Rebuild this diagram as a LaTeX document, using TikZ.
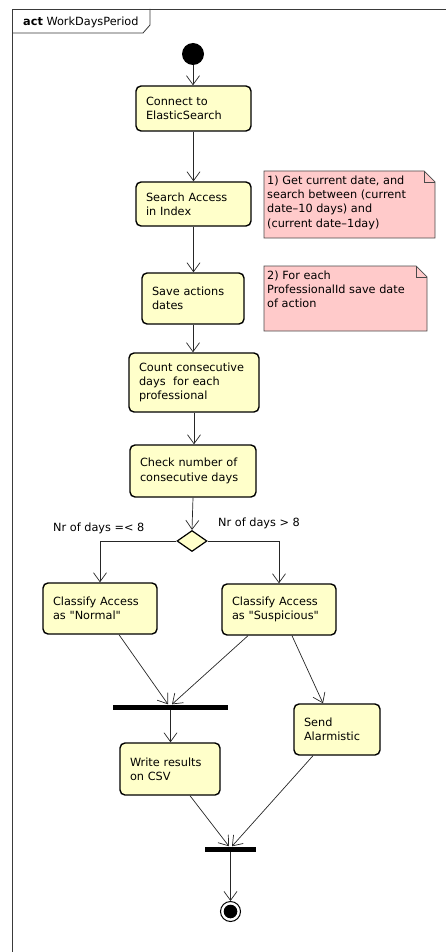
\documentclass[tikz,border=0pt]{standalone}
\usepackage{fontspec}
\setmainfont{DejaVu Sans}
\usetikzlibrary{arrows.meta,shapes.geometric}
\definecolor{actfill}{HTML}{FFFFCA}
\definecolor{notefill}{HTML}{FFCACA}
\definecolor{noteline}{HTML}{4A4A4A}
\definecolor{framecol}{HTML}{3A3A3A}

\begin{document}
\begin{tikzpicture}[x=1pt,y=-1pt,
  txt/.style={font=\fontsize{11.3}{14.3}\selectfont},
  act/.style={txt, draw=black, line width=1.4pt, fill=actfill,
    rounded corners=5pt, align=left, inner xsep=10pt, inner ysep=0pt},
  flow/.style={draw=black!85, line width=0.7pt,
    -{Straight Barb[length=9pt,width=13pt,line width=0.7pt]}},
  syncbar/.style={fill=black, inner sep=0pt, minimum height=5pt},
  notebox/.style={fill=notefill, draw=noteline, line width=0.7pt},
  notetext/.style={txt, anchor=north west, align=left, inner sep=0pt},
  guard/.style={txt, anchor=west, inner sep=0pt}
]
\useasboundingbox (0,0) rectangle (446,952);

% diagram frame with its name tab
\draw[framecol, line width=0.8pt] (12,960) -- (12,9) -- (450,9);
\draw[framecol, line width=0.8pt] (12,33) -- (143,33) -- (150,25) -- (150,9);
\node[txt, anchor=west, inner sep=0pt] (title) at (23,22) {\textbf{act} WorkDaysPeriod};

% initial node
\node[circle, fill=black, minimum size=22pt, inner sep=0pt] (start) at (193,54) {};

% actions
\node[act, text width=95pt, minimum height=45pt] (conn) at (193.5,108.5) {Connect to\\ElasticSearch};
\node[act, text width=95pt, minimum height=44pt] (search) at (193.5,204) {Search Access\\in Index};
\node[act, text width=82pt, minimum height=51pt] (save) at (193,298.5) {Save actions\\dates};
\node[act, text width=110pt, minimum height=59pt] (count) at (194,382.5) {Count consecutive\\days\ \ for each\\professional};
\node[act, text width=106pt, minimum height=52pt] (check) at (193,471) {Check number of\\consecutive days};

% decision
\node[diamond, draw=black, line width=1.2pt, fill=actfill, inner sep=0pt,
  minimum width=30pt, minimum height=21pt] (dec) at (192,541) {};

\node[act, text width=94pt, minimum height=51pt] (norm) at (100,608.5) {Classify Access\\as \textquotedbl Normal\textquotedbl};
\node[act, text width=94pt, minimum height=51pt] (susp) at (279,609.5) {Classify Access\\as \textquotedbl Suspicious\textquotedbl};
\node[act, text width=66pt, minimum height=51pt] (alarm) at (337,729.5) {Send\\Alarmistic};
\node[act, text width=80pt, minimum height=52pt] (write) at (170,769) {Write results\\on CSV};

% joins
\node[syncbar, minimum width=115pt] (join1) at (170.5,707) {};
\node[syncbar, minimum width=51pt] (join2) at (230.5,849) {};

% final node
\node[circle, draw=black, line width=1pt, fill=white, minimum size=20pt, inner sep=0pt] (final) at (230.5,911.5) {};
\fill[black] (final.center) circle (6.8pt);

% notes
\path[notebox] (264,171) -- (424,171) -- (435,182) -- (435,238) -- (264,238) -- cycle;
\draw[noteline, line width=0.7pt] (424,171) -- (424,182) -- (435,182);
\node[notetext] (note1) at (267,175.5) {1) Get current date, and\\search between (current\\date–10 days) and\\(current date–1day)};

\path[notebox] (264,266) -- (416,266) -- (427,277) -- (427,331) -- (264,331) -- cycle;
\draw[noteline, line width=0.7pt] (416,266) -- (416,277) -- (427,277);
\node[notetext] (note2) at (267,270.5) {2) For each\\ProfessionalId save date\\of action};

% guards
\node[guard] (gl) at (53,528) {Nr of days =< 8};
\node[guard] (gr) at (218,523) {Nr of days > 8};

% control flow
\draw[flow] (start) -- (start |- conn.north);
\draw[flow] (conn.south) -- (search.north);
\draw[flow] (search.south) -- (search.south |- save.north);
\draw[flow] (save.south) -- (save.south |- count.north);
\draw[flow] (count.south) -- (count.south |- check.north);
\draw[flow] (check.south) -- (dec.north);
\draw[flow] (dec.west) -| (norm.north);
\draw[flow] (dec.east) -| (susp.north);
\draw[flow] ([xshift=19pt]norm.south) -- ([xshift=-2.5pt]join1.north);
\draw[flow] ([xshift=-31pt]susp.south) -- ([xshift=1.5pt]join1.north);
\draw[flow] ([xshift=13pt]susp.south) -- ([xshift=-14pt]alarm.north);
\draw[flow] (join1.south) -- (join1.south |- write.north);
\draw[flow] ([xshift=20pt]write.south) -- ([xshift=-1.5pt]join2.north);
\draw[flow] ([xshift=-24pt]alarm.south) -- ([xshift=1.5pt]join2.north);
\draw[flow] (join2.south) -- (final.north);
\end{tikzpicture}
\end{document}
